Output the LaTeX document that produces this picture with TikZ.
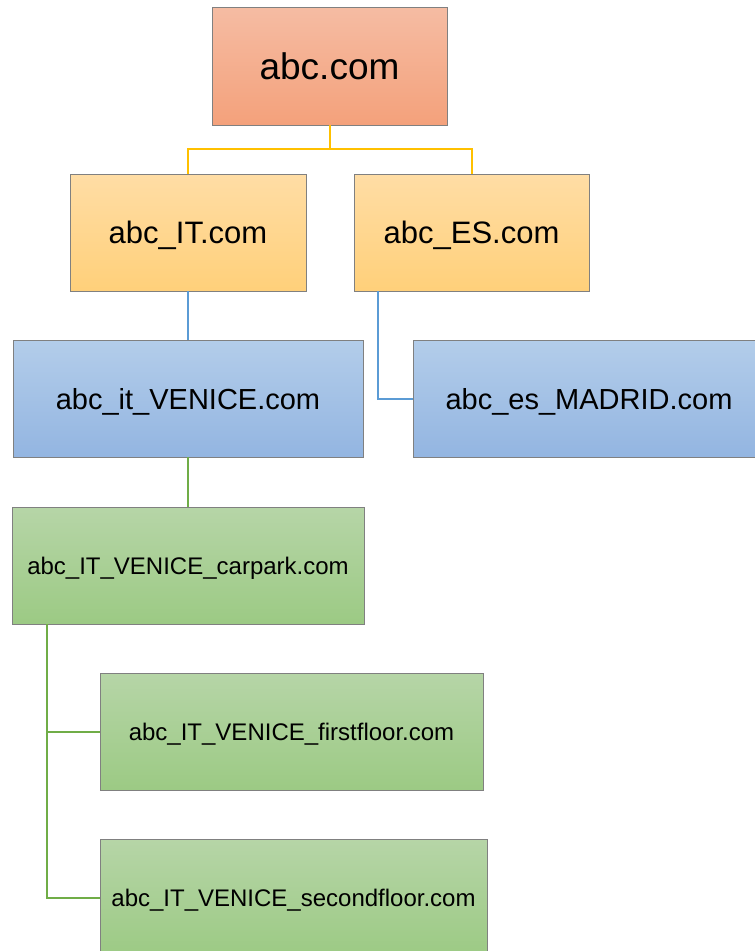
\documentclass[tikz,border=0pt]{standalone}
\usepackage{fontspec}
\setmainfont{Liberation Sans}
\definecolor{red1}{HTML}{F5BCA3}
\definecolor{red2}{HTML}{F4A17B}
\definecolor{yel1}{HTML}{FFDDA5}
\definecolor{yel2}{HTML}{FFD07A}
\definecolor{blu1}{HTML}{B3CDEA}
\definecolor{blu2}{HTML}{93B5E1}
\definecolor{grn1}{HTML}{B6D5A7}
\definecolor{grn2}{HTML}{9CCA84}
\definecolor{yelline}{HTML}{FFC000}
\definecolor{bluline}{HTML}{5B9BD5}
\definecolor{grnline}{HTML}{70AD47}
\tikzset{
  box/.style={draw=black!50, line width=0.8pt, rectangle, inner sep=0pt, text depth=0pt, shading=axis, shading angle=0},
  redbox/.style={box, top color=red1, bottom color=red2},
  yelbox/.style={box, top color=yel1, bottom color=yel2},
  bluebox/.style={box, top color=blu1, bottom color=blu2},
  grnbox/.style={box, top color=grn1, bottom color=grn2},
  yline/.style={color=yelline, line width=2pt},
  bline/.style={color=bluline, line width=2pt},
  gline/.style={color=grnline, line width=2pt}}
\begin{document}
\begin{tikzpicture}[x=1pt,y=-1pt]
\useasboundingbox (0,0) rectangle (755,951);
\coordinate (ybar) at (330,149);
\node[redbox, minimum width=235pt, minimum height=118pt, font=\fontsize{37}{40}\selectfont] (root) at (329.5,66) {abc.com};
\node[yelbox, minimum width=236pt, minimum height=117pt, font=\fontsize{31}{34}\selectfont] (it) at (188,232.5) {abc\_IT.com};
\node[yelbox, minimum width=235pt, minimum height=117pt, font=\fontsize{31}{34}\selectfont] (es) at (471.5,232.5) {abc\_ES.com};
\node[bluebox, minimum width=350pt, minimum height=117pt, font=\fontsize{29}{32}\selectfont] (ven) at (188,398.5) {abc\_it\_VENICE.com};
\node[bluebox, minimum width=352pt, minimum height=117pt, font=\fontsize{29}{32}\selectfont] (mad) at (589,398.5) {abc\_es\_MADRID.com};
\node[grnbox, minimum width=352pt, minimum height=117pt, font=\fontsize{24}{27}\selectfont] (car) at (188,565.5) {abc\_IT\_VENICE\_carpark.com};
\node[grnbox, minimum width=383pt, minimum height=117pt, font=\fontsize{24}{27}\selectfont] (ff) at (291.5,731.5) {abc\_IT\_VENICE\_firstfloor.com};
\node[grnbox, minimum width=387pt, minimum height=117pt, font=\fontsize{24}{27}\selectfont] (sf) at (293.5,897.5) {abc\_IT\_VENICE\_secondfloor.com};
\draw[yline] (root.south) -- (root.south |- ybar);
\draw[yline] (it.north) |- (root.south |- ybar) -| (es.north);
\draw[bline] (it.south) -- (ven.north);
\draw[bline] ([xshift=24pt]es.south west) |- (mad.west);
\draw[gline] (ven.south) -- (car.north);
\draw[gline] ([xshift=35pt]car.south west) |- (ff.west);
\draw[gline] ([xshift=35pt]car.south west) |- (sf.west);
\end{tikzpicture}
\end{document}
